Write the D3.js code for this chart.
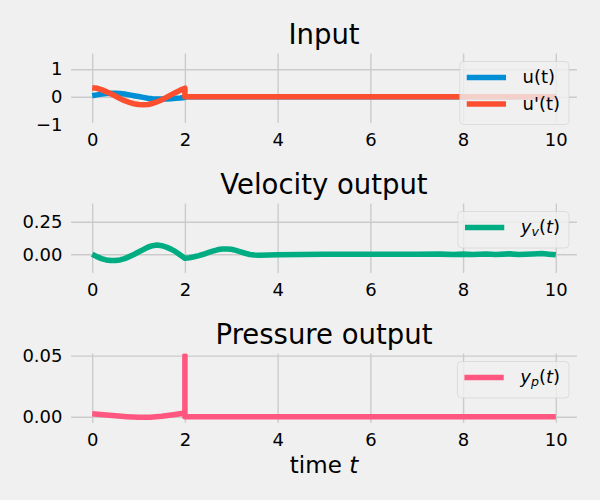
<!DOCTYPE html>
<html>
<head>
<meta charset="utf-8">
<script src="https://cdn.jsdelivr.net/npm/d3@7"></script>
<style>
  body { margin: 0; background: #f0f0f0; }
  svg { font-family: "DejaVu Sans", sans-serif; display: block; }
</style>
</head>
<body>
<svg width="600" height="500"></svg>
<script>
// shared time axis
var xTicks = [0, 2, 4, 6, 8, 10];
var xLim = [-0.5, 10.5];

// Input panel
var inputTime = [0, 0.1, 0.2, 0.3, 0.4, 0.5, 0.6, 0.7, 0.8, 0.9, 1.0,
  1.1, 1.2, 1.3, 1.4, 1.5, 1.6, 1.7, 1.8, 1.9, 2.0, 2.0, 10];
var inputU = [0.04, 0.07, 0.10, 0.12, 0.13, 0.13, 0.12, 0.10, 0.07, 0.04, 0.01,
  -0.02, -0.05, -0.07, -0.08, -0.08, -0.08, -0.07, -0.05, -0.04, -0.02, 0, 0];
var inputUPrime = [0.33, 0.31, 0.26, 0.19, 0.11, 0.03, -0.06, -0.14, -0.20, -0.25, -0.28,
  -0.29, -0.28, -0.24, -0.18, -0.11, -0.02, 0.07, 0.16, 0.24, 0.31, 0, 0];
var inputYTicks = [-1, 0, 1];
var inputYLim = [-1.02, 1.64];

// Velocity panel
var velTime = [0, 0.1, 0.2, 0.3, 0.4, 0.5, 0.6, 0.7, 0.8, 0.9, 1.0,
  1.1, 1.2, 1.3, 1.4, 1.5, 1.6, 1.7, 1.8, 1.9, 2.0,
  2.1, 2.2, 2.3, 2.4, 2.5, 2.6, 2.7, 2.8, 2.9, 3.0,
  3.1, 3.2, 3.3, 3.4, 3.5, 3.6, 3.8, 4.0, 4.5, 5.0, 6.0, 7.0,
  7.5, 7.8, 8.0, 8.2, 8.5, 8.7, 9.0, 9.2, 9.5, 9.7, 9.85, 10.0];
var velY = [0.000, -0.018, -0.033, -0.043, -0.048, -0.048, -0.043, -0.033, -0.018, -0.002, 0.017,
  0.036, 0.054, 0.066, 0.071, 0.066, 0.055, 0.040, 0.020, -0.005, -0.031,
  -0.026, -0.019, -0.010, 0.000, 0.012, 0.024, 0.034, 0.040, 0.041, 0.038,
  0.030, 0.019, 0.008, -0.002, -0.006, -0.007, -0.005, -0.003, -0.001, 0.000, 0.000, 0.000,
  0.001, -0.001, 0.001, -0.001, 0.002, -0.001, 0.003, -0.002, 0.002, 0.006, 0.001, -0.004];
var velYTicks = [0, 0.25];
var velYLim = [-0.159, 0.405];

// Pressure panel
var presTime = [0, 0.25, 0.5, 0.75, 1.0, 1.25, 1.5, 1.75, 2.0, 2.0, 2.0, 10];
var presY = [0.0024, 0.0016, 0.0007, 0.0000, -0.0005, -0.0004, 0.0004, 0.0016, 0.0030, 0.0500, 0.0000, 0.0000];
var presYTicks = [0, 0.05];
var presYLim = [-0.0068, 0.0534];

var panels = [
  { title: "Input", yLim: inputYLim, yTicks: inputYTicks, fmt: d3.format("d"),
    series: [
      { t: inputTime, y: inputU, color: "#008fd5", label: [{ s: "u(t)" }] },
      { t: inputTime, y: inputUPrime, color: "#fc4f30", label: [{ s: "u'(t)" }] }
    ] },
  { title: "Velocity output", yLim: velYLim, yTicks: velYTicks, fmt: d3.format(".2f"),
    series: [
      { t: velTime, y: velY, color: "#00ad82",
        label: [{ s: "y", it: true }, { s: "v", it: true, sub: true }, { s: "(" }, { s: "t", it: true }, { s: ")" }] }
    ] },
  { title: "Pressure output", yLim: presYLim, yTicks: presYTicks, fmt: d3.format(".2f"),
    series: [
      { t: presTime, y: presY, color: "#ff5780",
        label: [{ s: "y", it: true }, { s: "p", it: true, sub: true }, { s: "(" }, { s: "t", it: true }, { s: ")" }] }
    ] }
];

var svg = d3.select("svg");
var left = 69, right = 579, panelH = 73.5;
var panelTops = [51.5, 201.5, 351.5];
var lw = 5.56;

var xScale = d3.scaleLinear().domain(xLim).range([left, right]);

panels.forEach(function(p, i) {
  var top = panelTops[i], bottom = top + panelH;
  var yScale = d3.scaleLinear().domain(p.yLim).range([bottom, top]);
  var g = svg.append("g");

  // x grid + labels
  var gx = g.append("g")
    .attr("transform", "translate(0," + bottom + ")")
    .call(d3.axisBottom(xScale).tickValues(xTicks).tickSize(-panelH).tickPadding(8.2));
  // y grid + labels
  var gy = g.append("g")
    .attr("transform", "translate(" + left + ",0)")
    .call(d3.axisLeft(yScale).tickValues(p.yTicks).tickFormat(p.fmt).tickSize(-(right - left)).tickPadding(6.5));
  [gx, gy].forEach(function(a) {
    a.attr("font-size", 18).attr("font-family", "DejaVu Sans, sans-serif");
    a.select(".domain").remove();
    a.selectAll(".tick line").attr("stroke", "#cbcbcb").attr("stroke-width", 1.39);
    a.selectAll(".tick text").attr("fill", "#000");
  });

  svg.append("clipPath").attr("id", "clip" + i)
    .append("rect").attr("x", left).attr("y", top).attr("width", right - left).attr("height", panelH);

  var line = d3.line()
    .x(function(d) { return xScale(d[0]); })
    .y(function(d) { return yScale(d[1]); });

  p.series.forEach(function(s) {
    g.append("path")
      .datum(d3.zip(s.t, s.y))
      .attr("d", line)
      .attr("fill", "none")
      .attr("stroke", s.color)
      .attr("stroke-width", lw)
      .attr("stroke-linejoin", "round")
      .attr("stroke-linecap", "butt")
      .attr("clip-path", "url(#clip" + i + ")");
  });

  // axes frame in background colour (covers grid ends like the style does)
  g.append("rect")
    .attr("x", left).attr("y", top)
    .attr("width", right - left).attr("height", panelH)
    .attr("fill", "none")
    .attr("stroke", "#f0f0f0")
    .attr("stroke-width", 4.17);

  // title
  g.append("text")
    .attr("x", (left + right) / 2)
    .attr("y", top - 8)
    .attr("text-anchor", "middle")
    .attr("font-size", 27.5)
    .attr("fill", "#000")
    .text(p.title);

  // legend
  var lg = g.append("g");
  var box = lg.append("rect");
  var rowH = 26.5, padTop = 16, padBot = 20.5;
  var texts = [];
  p.series.forEach(function(s, k) {
    var cy = top + 10 + padTop + k * rowH;
    var h = lg.append("line")
      .attr("y1", cy).attr("y2", cy)
      .attr("stroke", s.color).attr("stroke-width", lw);
    var t = lg.append("text")
      .attr("y", cy)
      .attr("dy", "0.33em")
      .attr("font-size", 18)
      .attr("fill", "#000");
    s.label.forEach(function(part) {
      var ts = t.append("tspan").text(part.s);
      if (part.it) ts.attr("font-style", "italic");
      if (part.sub) ts.attr("font-size", 12.6).attr("dy", 3);
      else if (t.selectAll("tspan").size() > 1 && p.series[k].label[t.selectAll("tspan").size() - 2].sub) ts.attr("dy", -3);
    });
    texts.push({ h: h, t: t });
  });
  var tw = d3.max(texts, function(d) { return d.t.node().getComputedTextLength(); });
  var bw = 7 + 39.3 + 16.5 + tw + 9;
  var bx = right - 10 - bw;
  var bh = padTop + (p.series.length - 1) * rowH + padBot;
  box.attr("x", bx).attr("y", top + 10)
    .attr("width", bw).attr("height", bh)
    .attr("rx", 4)
    .attr("fill", "#f0f0f0").attr("fill-opacity", 0.8)
    .attr("stroke", "#cccccc").attr("stroke-opacity", 0.8).attr("stroke-width", 0.7);
  texts.forEach(function(d) {
    d.h.attr("x1", bx + 7).attr("x2", bx + 7 + 39.3);
    d.t.attr("x", bx + 7 + 39.3 + 16.5);
  });
});

// x label
var xl = svg.append("text")
  .attr("x", (left + right) / 2)
  .attr("y", 473)
  .attr("text-anchor", "middle")
  .attr("font-size", 23)
  .attr("fill", "#000");
xl.append("tspan").text("time ");
xl.append("tspan").attr("font-style", "italic").text("t");
</script>
</body>
</html>
